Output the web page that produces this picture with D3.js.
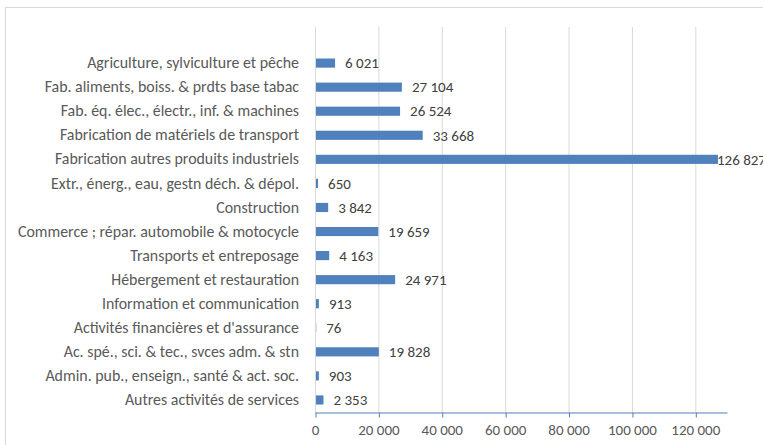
<!DOCTYPE html>
<html>
<head>
<meta charset="utf-8">
<script src="https://cdn.jsdelivr.net/npm/d3@7"></script>
<style>
  body { margin: 0; background: #fff; }
  svg { display: block; font-family: Carlito, Calibri, "Liberation Sans", sans-serif; }
</style>
</head>
<body>
<svg id="chart" width="763" height="445"></svg>
<script>
// Categories, top to bottom
const categories = [
    "Agriculture, sylviculture et pêche",
    "Fab. aliments, boiss. & prdts base tabac",
    "Fab. éq. élec., électr., inf. & machines",
    "Fabrication de matériels de transport",
    "Fabrication autres produits industriels",
    "Extr., énerg., eau, gestn déch. & dépol.",
    "Construction",
    "Commerce ; répar. automobile & motocycle",
    "Transports et entreposage",
    "Hébergement et restauration",
    "Information et communication",
    "Activités financières et d'assurance",
    "Ac. spé., sci. & tec., svces adm. & stn",
    "Admin. pub., enseign., santé & act. soc.",
    "Autres activités de services"
];

const values = [6021, 27104, 26524, 33668, 126827, 650, 3842, 19659, 4163, 24971, 913, 76, 19828, 903, 2353];

const xTicks = [0, 20000, 40000, 60000, 80000, 100000, 120000];
const xMax = 130000;

const svg = d3.select("#chart");
const fontSize = 15;
const fmt = v => d3.format(",")(v).replace(/,/g, " ");

// Chart area border
svg.append("rect")
    .attr("x", 5.5).attr("y", 7.5)
    .attr("width", 800).attr("height", 500)
    .attr("fill", "none")
    .attr("stroke", "#d9d9d9");

// Plot area
const plot = { left: 315, top: 27, right: 727, bottom: 412 };
const x = d3.scaleLinear().domain([0, xMax]).range([plot.left, plot.right]);

// One empty slot above the first category, as in the original sheet
const step = (plot.bottom - plot.top) / (categories.length + 1);
const y = d3.scaleBand()
    .domain(categories)
    .range([plot.top + step, plot.bottom])
    .paddingInner(0.62)
    .paddingOuter(0.31);

// Vertical gridlines
svg.append("g")
    .selectAll("line")
    .data(xTicks)
    .join("line")
    .attr("x1", d => x(d) + 0.5).attr("x2", d => x(d) + 0.5)
    .attr("y1", plot.top).attr("y2", plot.bottom)
    .attr("stroke", "#d9d9d9");

// Bars
svg.append("g")
    .selectAll("rect")
    .data(values)
    .join("rect")
    .attr("x", x(0) + 1)
    .attr("y", (d, i) => y(categories[i]))
    .attr("width", d => Math.max(0, x(d) - x(0)))
    .attr("height", y.bandwidth())
    .attr("fill", "#4f81bd");

// Value labels
const labels = svg.append("g")
    .selectAll("text")
    .data(values)
    .join("text")
    .attr("y", (d, i) => y(categories[i]) + y.bandwidth() / 2)
    .attr("dy", "0.35em")
    .attr("font-size", fontSize)
    .attr("fill", "#404040")
    .text(d => fmt(d));
labels.attr("x", function (d) {
    const w = this.getComputedTextLength();
    return Math.min(x(d) + 11, Math.max(x(d), 765 - w));
});

// Category labels
const yAxis = svg.append("g")
    .attr("transform", `translate(${plot.left},0)`)
    .call(d3.axisLeft(y).tickSize(0).tickPadding(16))
    .attr("font-family", null)
    .attr("font-size", null);
yAxis.select(".domain").remove();
yAxis.selectAll("text")
    .attr("font-size", 15.9)
    .attr("fill", "#595959");

// Bottom axis
const xAxis = svg.append("g")
    .attr("transform", `translate(0,${plot.bottom + 0.5})`)
    .call(d3.axisBottom(x).tickValues(xTicks).tickFormat(fmt).tickSize(5).tickSizeOuter(0).tickPadding(7))
    .attr("font-family", null)
    .attr("font-size", null);
xAxis.select(".domain").attr("stroke", "#4f81bd");
xAxis.selectAll(".tick line").attr("stroke", "#4f81bd").attr("transform", "translate(0.5,0)");
xAxis.selectAll("text")
    .attr("font-size", fontSize)
    .attr("fill", "#595959");
</script>
</body>
</html>
